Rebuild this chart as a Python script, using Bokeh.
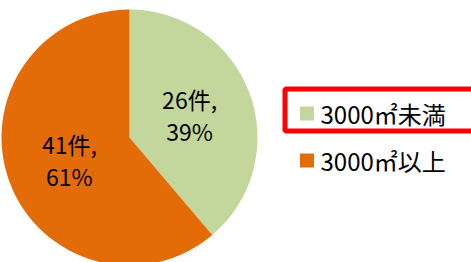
import math
from bokeh.plotting import figure
from bokeh.models import Range1d
from bokeh.core.properties import value
from bokeh.embed import file_html
from bokeh.resources import INLINE

# data
categories = ["3000㎡未満", "3000㎡以上"]
counts = [26, 41]
colors = ["#C3D69B", "#E36C09"]

W, H = 471, 262
FONT = value("Noto Sans CJK JP")

p = figure(width=W, height=H, output_backend="svg", toolbar_location=None,
           x_range=Range1d(0, W), y_range=Range1d(0, H),
           min_border=0, outline_line_color=None)
p.axis.visible = False
p.grid.visible = False
p.background_fill_color = "white"
p.border_fill_color = "white"

def fx(px):
    return px

def fy(py):
    return H - py

cx, cy, R = fx(129), fy(137), 128
total = sum(counts)

# wedges: start at 12 o'clock, going clockwise
start = 90.0
for i, c in enumerate(counts):
    sweep = 360.0 * c / total
    end = start - sweep
    p.wedge(x=cx, y=cy, radius=R, start_angle=math.radians(end),
            end_angle=math.radians(start),
            fill_color=colors[i], line_color=None)
    mid = math.radians((start + end) / 2)
    lx = cx + 0.5 * R * math.cos(mid)
    ly = cy + 0.5 * R * math.sin(mid)
    pct = round(100 * c / total)
    p.text(x=[lx], y=[ly], text=[f"{c}件,"], text_font=FONT,
           text_font_size="23px", text_align="center", text_baseline="middle",
           text_color="black", y_offset=-16)
    p.text(x=[lx], y=[ly], text=[f"{pct}%"], text_font=FONT,
           text_font_size="23px", text_align="center", text_baseline="middle",
           text_color="black", y_offset=16)
    start = end

# legend
leg_y = [113, 160]
for i, cat in enumerate(categories):
    p.rect(x=[fx(306.5)], y=[fy(leg_y[i])], width=14, height=14,
           fill_color=colors[i], line_color=None)
    p.text(x=[fx(320)], y=[fy(leg_y[i])], text=[cat], text_font=FONT,
           text_font_size="24px", text_align="left", text_baseline="middle",
           text_color="black")

# red highlight box around first legend entry
p.quad(left=[fx(284.5)], right=[fx(490)], top=[fy(88.5)], bottom=[fy(130.5)],
       fill_color=None, line_color="#FF0000", line_width=5)

open("out.html", "w").write(file_html(p, INLINE))
